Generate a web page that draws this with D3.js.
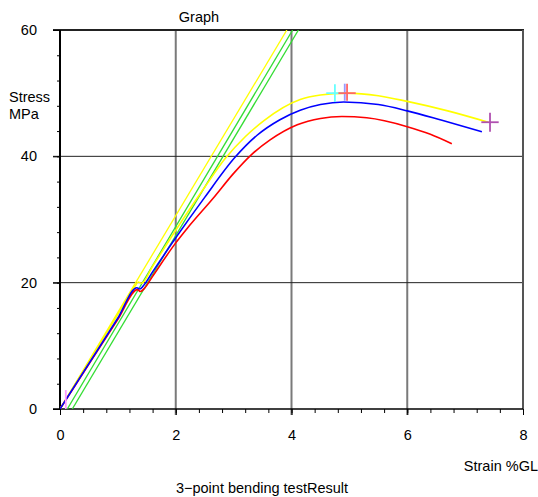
<!DOCTYPE html>
<html><head><meta charset="utf-8">
<script src="https://cdn.jsdelivr.net/npm/d3@7"></script>
<style>body{margin:0;background:#fff}svg{display:block}text{font-family:"Liberation Sans",Arial,sans-serif;font-size:14.5px;fill:#000}</style>
</head><body><svg id="c" width="538" height="497"></svg>
<script>
// data: strain (%GL), stress (MPa)
const redCurve = [[0,0],[0.5,7.1],[1.0,14.2],[1.34,18.9],[1.39,18.6],[1.46,19.1],[1.6,21.0],[2.0,26.3],[2.19,28.5],[2.65,33.4],[3.0,37.3],[3.3,40.2],[3.63,42.6],[4.1,45.0],[4.5,46.0],[4.87,46.3],[5.3,46.1],[6.0,44.7],[6.4,43.5],[6.77,42.0]];
const blueCurve = [[0,0],[0.5,7.2],[1.0,14.4],[1.33,19.2],[1.38,19.0],[1.44,19.5],[1.6,21.7],[2.0,27.1],[2.5,33.5],[3.02,39.8],[3.4,43.3],[3.8,45.8],[4.15,47.3],[4.5,48.2],[4.9,48.6],[5.5,48.2],[6.0,47.2],[6.6,45.7],[7.29,43.9]];
const yellowCurve = [[0,0],[0.5,7.5],[1.0,15.0],[1.3,19.5],[1.35,20.1],[1.41,19.9],[1.6,22.6],[2.0,28.3],[2.5,35.1],[2.85,39.6],[3.2,43.1],[3.53,45.7],[4.15,49.0],[4.5,49.7],[4.95,50.0],[5.5,49.6],[6.0,48.7],[6.7,47.2],[7.4,45.4]];
const yellowLine = [[0,0],[3.92,60]];
const greenLine1 = [[0.126,0],[4.02,60]];
const greenLine2 = [[0.212,0],[4.12,60]];
const xTicks = [0,2,4,6,8];
const yTicks = [0,20,40,60];
const xMinor = d3.range(0,8.01,0.4);
const yMinor = d3.range(0,60.01,4);
const markers = [
  {x:0.1, y:0, w:0, hUp:3, hDown:0, color:"#ff99ff"},
  {x:4.75, y:50.0, w:1, hUp:1.4, hDown:1.4, color:"#66ffff"},
  {x:4.92, y:50.0, w:0, hUp:1.5, hDown:1.2, color:"#9999ff"},
  {x:4.96, y:50.0, w:1.0, hUp:1.5, hDown:1.2, color:"#ff6666"},
  {x:7.43, y:45.4, w:1, hUp:1.5, hDown:1.5, color:"#b050b0"}
];

const svg = d3.select("#c");
const x = d3.scaleLinear().domain([0,8]).range([60,523]);
const y = d3.scaleLinear().domain([0,60]).range([409,30]);

svg.append("defs").append("clipPath").attr("id","clip")
  .append("rect").attr("x",60).attr("y",30).attr("width",463).attr("height",379);

// vertical grid (gray)
svg.append("g").selectAll("line").data(xTicks.filter(d=>d>0&&d<8)).join("line")
  .attr("x1",d=>x(d)).attr("x2",d=>x(d)).attr("y1",y(60)).attr("y2",y(0)+6)
  .attr("stroke","#7a7a7a").attr("stroke-width",2);
// horizontal grid
svg.append("g").selectAll("line").data([20,40]).join("line")
  .attr("x1",x(0)-7).attr("x2",x(8)).attr("y1",d=>y(d)).attr("y2",d=>y(d))
  .attr("stroke","#222").attr("stroke-width",1);
// borders
svg.append("line").attr("x1",x(0)-7).attr("x2",x(8)+1).attr("y1",y(60)).attr("y2",y(60)).attr("stroke","#222").attr("stroke-width",2);
svg.append("line").attr("x1",x(8)).attr("x2",x(8)).attr("y1",y(60)).attr("y2",y(0)).attr("stroke","#555").attr("stroke-width",2);

// axes via d3
const yAxisMinor = d3.axisLeft(y).tickValues(yMinor).tickSize(3).tickFormat("");
svg.append("g").attr("transform",`translate(${x(0)},0)`).call(yAxisMinor)
  .call(g=>g.select(".domain").remove()).selectAll("line").attr("stroke","#000");
const yAxisMajor = d3.axisLeft(y).tickValues(yTicks).tickSize(7).tickPadding(16);
svg.append("g").attr("transform",`translate(${x(0)},0)`).call(yAxisMajor)
  .call(g=>g.select(".domain").remove())
  .call(g=>g.selectAll("text").attr("font-size",14.5).attr("fill","#000").attr("font-family","Liberation Sans, Arial, sans-serif"))
  .selectAll("line").attr("stroke","#000");
const xAxisMinor = d3.axisBottom(x).tickValues(xMinor).tickSize(4).tickFormat("");
svg.append("g").attr("transform",`translate(0,${y(0)})`).call(xAxisMinor)
  .call(g=>g.select(".domain").remove()).selectAll("line").attr("stroke","#000");
const xAxisMajor = d3.axisBottom(x).tickValues(xTicks).tickSize(6).tickPadding(15);
svg.append("g").attr("transform",`translate(0,${y(0)})`).call(xAxisMajor)
  .call(g=>g.select(".domain").remove())
  .call(g=>g.selectAll("text").attr("font-size",14.5).attr("fill","#000").attr("font-family","Liberation Sans, Arial, sans-serif"))
  .selectAll("line").attr("stroke","#000");
svg.append("line").attr("x1",x(0)).attr("x2",x(0)).attr("y1",y(60)).attr("y2",y(0)+1).attr("stroke","#000").attr("stroke-width",2);
svg.append("line").attr("x1",x(0)-7).attr("x2",x(8)).attr("y1",y(0)).attr("y2",y(0)).attr("stroke","#000").attr("stroke-width",1.5);

// data lines
const line = d3.line().x(d=>x(d[0])).y(d=>y(d[1]));
const curve = d3.line().x(d=>x(d[0])).y(d=>y(d[1])).curve(d3.curveMonotoneX);
const plot = svg.append("g").attr("clip-path","url(#clip)");
plot.append("path").attr("d",line(yellowLine)).attr("stroke","#ffff00").attr("stroke-width",1.3).attr("fill","none");
plot.append("path").attr("d",line(greenLine1)).attr("stroke","#33dd33").attr("stroke-width",1.3).attr("fill","none");
plot.append("path").attr("d",line(greenLine2)).attr("stroke","#33dd33").attr("stroke-width",1.3).attr("fill","none");
plot.append("path").attr("d",curve(yellowCurve)).attr("stroke","#ffff00").attr("stroke-width",1.6).attr("fill","none");
plot.append("path").attr("d",curve(redCurve)).attr("stroke","#ff0000").attr("stroke-width",1.6).attr("fill","none");
plot.append("path").attr("d",curve(blueCurve)).attr("stroke","#0000ff").attr("stroke-width",1.6).attr("fill","none");

// markers
const mg = svg.append("g");
markers.forEach(m=>{
  mg.append("line").attr("x1",x(m.x)).attr("x2",x(m.x)).attr("y1",y(m.y+m.hUp)).attr("y2",y(m.y-m.hDown))
    .attr("stroke",m.color).attr("stroke-width",1.8);
  if(m.w>0) mg.append("line").attr("x1",x(m.x-m.w*0.15)).attr("x2",x(m.x+m.w*0.15)).attr("y1",y(m.y)).attr("y2",y(m.y))
    .attr("stroke",m.color).attr("stroke-width",1.8);
});

// texts
svg.append("text").attr("x",199).attr("y",22).attr("text-anchor","middle").text("Graph");
svg.append("text").attr("x",9).attr("y",102).text("Stress");
svg.append("text").attr("x",9).attr("y",119).text("MPa");
svg.append("text").attr("x",538).attr("y",471).attr("text-anchor","end").text("Strain %GL");
svg.append("text").attr("x",262).attr("y",493).attr("text-anchor","middle").text("3\u2212point bending testResult");
</script></body></html>
